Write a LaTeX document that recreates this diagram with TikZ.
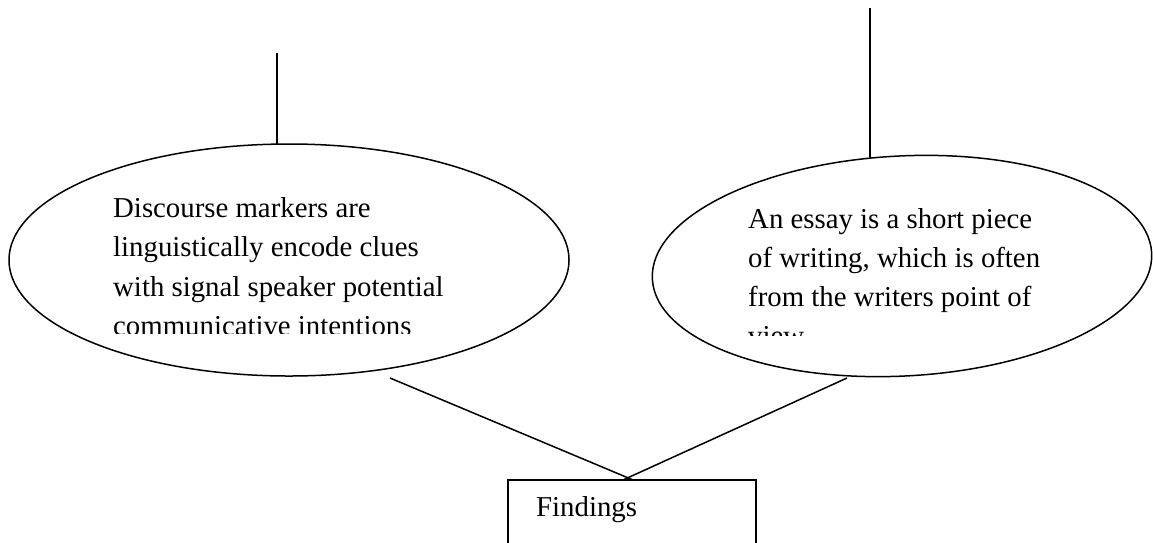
\documentclass[tikz,border=0pt]{standalone}
\usepackage{fontspec}
\setmainfont{Liberation Serif}
\usetikzlibrary{shapes.geometric}
\tikzset{
  conn/.style={line width=1.5pt, black},
  bubble/.style={draw, line width=1.5pt, ellipse, inner sep=0pt},
  txt/.style={anchor=base west, inner sep=0pt, font=\fontsize{28.8}{39}\selectfont},
  findbox/.style={draw, line width=1.5pt, rectangle, inner sep=0pt, anchor=north west}
}
\begin{document}
\begin{tikzpicture}[x=1pt, y=-1pt]
\clip (0,0) rectangle (1153,542);
\fill[white] (0,0) rectangle (1153,542);
% ellipses
\node[bubble, minimum width=560pt, minimum height=232pt] (le) at (289,260) {};
\node[bubble, minimum width=500pt, minimum height=220pt, rotate=3] (re) at (902,266) {};
% box
\node[findbox, minimum width=248pt, minimum height=90pt] (fb) at (507,479) {};
\node[txt] (fbt) at (536,516) {Findings};
% left text (clipped)
\begin{scope}
\clip (0,150) rectangle (640,333);
\node[txt] (l1) at (113,217) {Discourse markers are};
\node[txt] (l2) at (113,256) {linguistically encode clues};
\node[txt] (l3) at (113,296) {with signal speaker potential};
\node[txt] (l4) at (113,335) {communicative intentions};
\end{scope}
% right text (clipped)
\begin{scope}
\clip (640,150) rectangle (1153,335);
\node[txt] (r1) at (748,228) {An essay is a short piece};
\node[txt] (r2) at (748,267) {of writing, which is often};
\node[txt] (r3) at (748,306) {from the writers point of};
\node[txt] (r4) at (748,345) {view};
\end{scope}
% connectors
\coordinate (ltop) at (277,53);
\coordinate (lbot) at (277,145);
\coordinate (rtop) at (870,8);
\coordinate (rbot) at (870,158);
\coordinate (lstart) at (390,378);
\coordinate (rstart) at (847,378);
\coordinate (lend) at (632,479.5);
\coordinate (rend) at (624,479.5);
\draw[conn] (ltop) -- (lbot);
\draw[conn] (rtop) -- (rbot);
\draw[conn] (lstart) -- (lend);
\draw[conn] (rstart) -- (rend);
\end{tikzpicture}
\end{document}
